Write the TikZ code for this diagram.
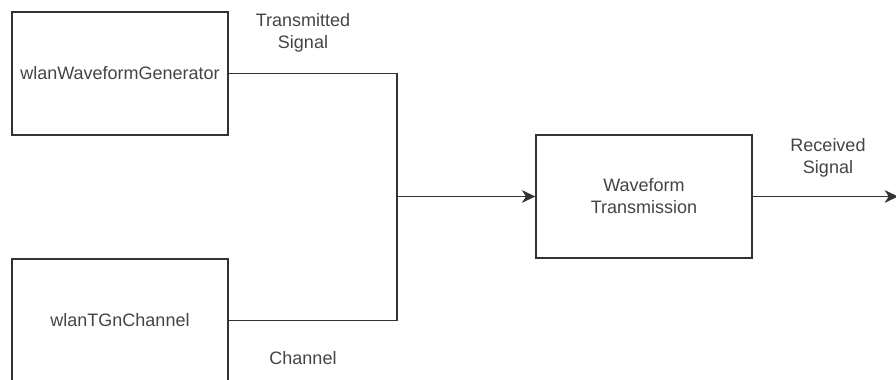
\documentclass[tikz,border=0pt]{standalone}
\usepackage{fontspec}
\setmainfont{Liberation Sans}
\usetikzlibrary{arrows.meta}
\definecolor{linec}{HTML}{333333}
\definecolor{textc}{HTML}{444444}
\tikzset{
  blockbox/.style={draw=linec, line width=1.1pt, minimum width=162pt, minimum height=92.25pt, inner sep=0pt, text=textc, font=\fontsize{13.5}{16.5}\selectfont, align=center},
  lbl/.style={text=textc, font=\fontsize{13.5}{16.5}\selectfont, align=center, inner sep=0pt},
  conn/.style={draw=linec, line width=1.1pt},
  arr/.style={conn, -{Stealth[length=10pt, width=9.5pt, inset=3pt]}}
}
\begin{document}
\begin{tikzpicture}[x=0.75pt, y=-0.75pt]
\useasboundingbox (0,0) rectangle (896,379);
\node[blockbox] (g) at (120,73.5) {wlanWaveformGenerator};
\node[blockbox] (c) at (120,320.5) {wlanTGnChannel};
\node[blockbox] (w) at (644,196.5) {Waveform\\Transmission};
\coordinate (j) at (397,196.5);
\coordinate (out) at (898,196.5);
\draw[conn] (g.east) -| (j);
\draw[conn] (c.east) -| (j);
\draw[arr] (j) -- (w.west);
\draw[arr] (w.east) -- (out);
\node[lbl] (t1) at (303,33) {Transmitted\\Signal};
\node[lbl] (t2) at (303,358) {Channel};
\node[lbl] (t3) at (828,158) {Received\\Signal};
\end{tikzpicture}
\end{document}
